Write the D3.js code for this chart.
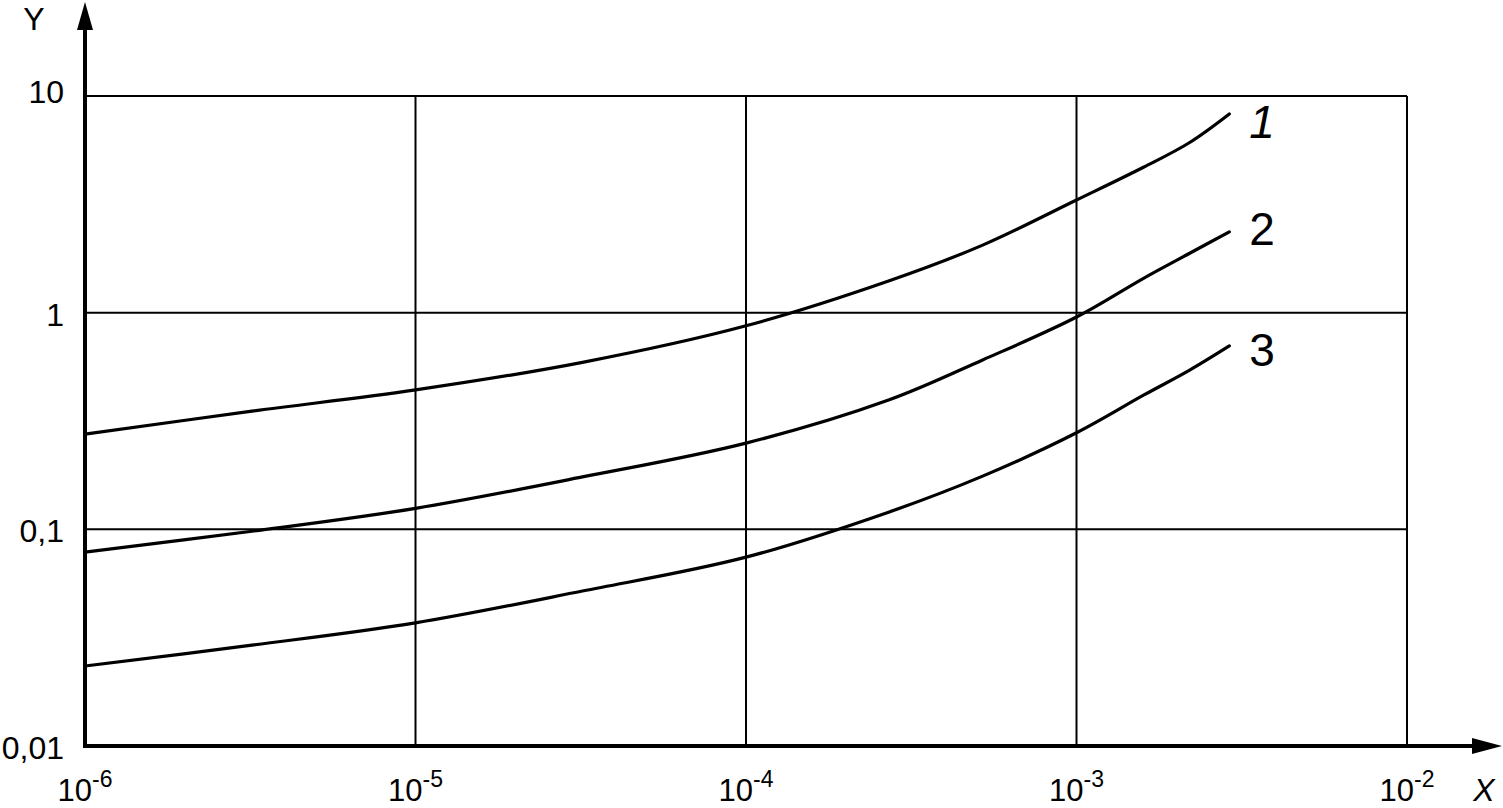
<!DOCTYPE html>
<html>
<head>
<meta charset="utf-8">
<script src="https://cdn.jsdelivr.net/npm/d3@7"></script>
<style>
  html, body { margin: 0; padding: 0; background: #fff; }
  svg { display: block; font-family: "Liberation Sans", Arial, sans-serif; }
</style>
</head>
<body>
<svg id="chart" width="1503" height="808"></svg>
<script>
// ---- data ----
const xTicks = [1e-6, 1e-5, 1e-4, 1e-3, 1e-2];
const xTickExps = ["-6", "-5", "-4", "-3", "-2"];
const yTicks = [0.01, 0.1, 1, 10];
const yTickLabels = ["0,01", "0,1", "1", "10"];
const xValues = [1e-6, 3.2e-6, 1e-5, 3.2e-5, 1e-4, 2.7e-4, 5.2e-4, 1e-3, 1.6e-3, 2.2e-3, 2.9e-3];
const curve1 = [0.275, 0.351, 0.44, 0.59, 0.87, 1.40, 2.05, 3.31, 4.70, 6.10, 8.26];
const curve2 = [0.0785, 0.098, 0.125, 0.1745, 0.25, 0.395, 0.605, 0.955, 1.445, 1.88, 2.36];
const curve3 = [0.0234, 0.0292, 0.037, 0.0519, 0.0744, 0.120, 0.176, 0.279, 0.417, 0.543, 0.702];
const curveNames = ["1", "2", "3"];
const axisXName = "X";
const axisYName = "Y";

(function () {
  // ---- layout ----
  const svg = d3.select("#chart");
  const mLeft = 85, mRight = 1407, mTop = 96, mBottom = 746;
  const x = d3.scaleLog().domain([1e-6, 1e-2]).range([mLeft, mRight]);
  const y = d3.scaleLog().domain([0.01, 10]).range([mBottom, mTop]);

  // grid
  const grid = svg.append("g").attr("stroke", "#000").attr("stroke-width", 2).attr("fill", "none");
  xTicks.slice(1).forEach(t => {
    grid.append("line").attr("x1", x(t)).attr("x2", x(t)).attr("y1", y(10)).attr("y2", y(0.01));
  });
  yTicks.slice(1).forEach(t => {
    grid.append("line").attr("x1", x(1e-6)).attr("x2", x(1e-2)).attr("y1", y(t)).attr("y2", y(t));
  });

  // axes with arrows
  const ax = svg.append("g");
  ax.append("line").attr("x1", mLeft).attr("x2", mLeft).attr("y1", mBottom + 2).attr("y2", 28)
    .attr("stroke", "#000").attr("stroke-width", 4);
  ax.append("path").attr("d", `M${mLeft - 8},30 L${mLeft},2 L${mLeft + 8},30 Z`).attr("fill", "#000");
  ax.append("line").attr("x1", mLeft - 2).attr("x2", 1474).attr("y1", mBottom).attr("y2", mBottom)
    .attr("stroke", "#000").attr("stroke-width", 4);
  ax.append("path").attr("d", `M1472,${mBottom - 8} L1502,${mBottom} L1472,${mBottom + 8} Z`).attr("fill", "#000");

  // y tick labels
  yTicks.forEach((t, i) => {
    const dy = t === 10 ? 7 : 13;
    svg.append("text").attr("x", 64).attr("y", y(t) + dy)
      .attr("text-anchor", "end").attr("font-size", 32).text(yTickLabels[i]);
  });

  // x tick labels with superscripts
  xTicks.forEach((t, i) => {
    const txt = svg.append("text").attr("x", x(t)).attr("y", 801)
      .attr("text-anchor", "middle").attr("font-size", 31);
    txt.append("tspan").text("10");
    txt.append("tspan").attr("font-size", 23).attr("dy", -14).text(xTickExps[i]);
  });

  // axis names
  svg.append("text").attr("x", 34).attr("y", 30).attr("text-anchor", "middle")
    .attr("font-size", 32).text(axisYName);
  svg.append("text").attr("x", 1484).attr("y", 801).attr("text-anchor", "middle")
    .attr("font-size", 32).attr("font-style", "italic").text(axisXName);

  // curves
  const labelDy = [24, 13, 20];
  const line = d3.line().x(d => x(d[0])).y(d => y(d[1])).curve(d3.curveCatmullRom.alpha(0.5));
  [curve1, curve2, curve3].forEach((vals, k) => {
    const pts = xValues.map((xv, i) => [xv, vals[i]]);
    svg.append("path").datum(pts).attr("d", line)
      .attr("fill", "none").attr("stroke", "#000").attr("stroke-width", 3.2)
      .attr("stroke-linecap", "round");
    const last = pts[pts.length - 1];
    svg.append("text").attr("x", x(last[0]) + 20).attr("y", y(last[1]) + labelDy[k])
      .attr("font-size", 46).attr("font-style", k === 0 ? "italic" : "normal")
      .text(curveNames[k]);
  });
})();
</script>
</body>
</html>
